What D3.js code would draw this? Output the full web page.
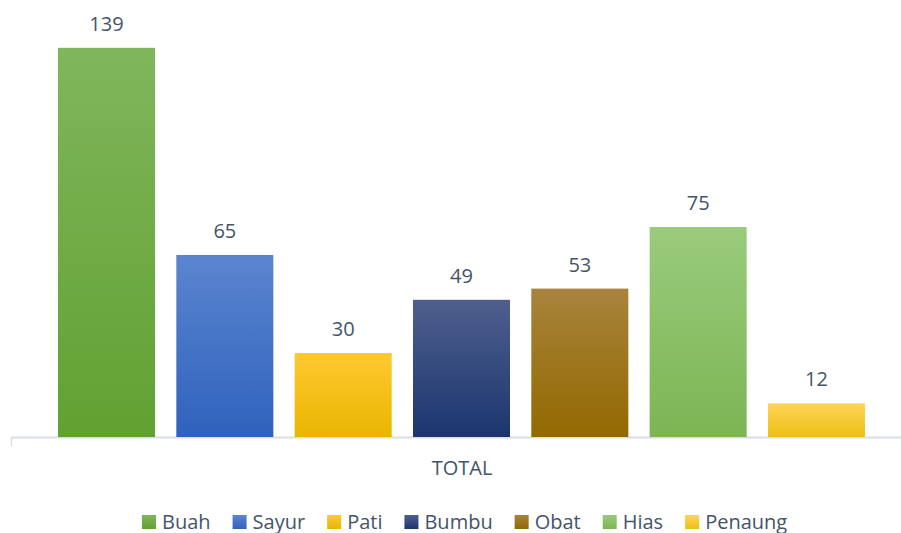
<!DOCTYPE html>
<html>
<head>
<meta charset="utf-8">
<script src="https://cdn.jsdelivr.net/npm/d3@7"></script>
<style>
  body { margin: 0; background: #fff; }
  text { font-family: "Open Sans", sans-serif; fill: #44546a; }
</style>
</head>
<body>
<div id="plot"></div>
<script>
var categories = ["Buah", "Sayur", "Pati", "Bumbu", "Obat", "Hias", "Penaung"];
var values = [139, 65, 30, 49, 53, 75, 12];
var topColors = ["#80b65c", "#5b85cf", "#ffc931", "#4f5f8d", "#a8833c", "#9acb7c", "#ffd457"];
var bottomColors = ["#61a131", "#2f62bd", "#e8b600", "#1b366f", "#936900", "#7db554", "#ecbf14"];
var groupLabel = "TOTAL";

var dataSet = categories.map(function (c, i) {
    return { name: c, value: values[i], top: topColors[i], bottom: bottomColors[i] };
});

plotBarChart(dataSet);

function plotBarChart(dataSet) {
    var width = 901;
    var height = 533;

    var svg = d3.select("#plot").append("svg").attr("width", width).attr("height", height);

    var defs = svg.append("defs");
    dataSet.forEach(function (d, i) {
        var g = defs.append("linearGradient")
            .attr("id", "grad" + i)
            .attr("x1", 0).attr("y1", 0).attr("x2", 0).attr("y2", 1);
        g.append("stop").attr("offset", "0%").attr("stop-color", d.top);
        g.append("stop").attr("offset", "100%").attr("stop-color", d.bottom);
    });

    var xScale = d3.scaleBand()
        .range([58, 865])
        .paddingInner(0.18)
        .paddingOuter(0)
        .domain(dataSet.map(function (d) { return d.name; }));

    var yScale = d3.scaleLinear()
        .domain([0, 140])
        .range([437, 45]);

    // axis line
    svg.append("line")
        .attr("x1", 11).attr("x2", 901)
        .attr("y1", yScale(0) + 0.5).attr("y2", yScale(0) + 0.5)
        .attr("stroke", "#d9dde4").attr("stroke-width", 2);
    svg.append("line")
        .attr("x1", 11.5).attr("x2", 11.5)
        .attr("y1", yScale(0)).attr("y2", yScale(0) + 9)
        .attr("stroke", "#d9dde4").attr("stroke-width", 1.5);

    svg.append("g")
        .selectAll("rect")
        .data(dataSet)
        .enter()
        .append("rect")
        .attr("x", function (d) { return xScale(d.name); })
        .attr("y", function (d) { return yScale(d.value); })
        .attr("width", xScale.bandwidth())
        .attr("height", function (d) { return yScale(0) - yScale(d.value); })
        .attr("fill", function (d, i) { return "url(#grad" + i + ")"; });

    svg.append("g")
        .selectAll("text")
        .data(dataSet)
        .enter()
        .append("text")
        .attr("x", function (d) { return xScale(d.name) + xScale.bandwidth() / 2; })
        .attr("y", function (d) { return yScale(d.value) - 17; })
        .attr("text-anchor", "middle")
        .style("font-size", "20px")
        .text(function (d) { return d.value; });

    svg.append("text")
        .attr("x", 462).attr("y", 475)
        .attr("text-anchor", "middle")
        .style("font-size", "20px")
        .text(groupLabel);

    // legend
    var legend = svg.append("g").attr("transform", "translate(0,522)");
    var x = 142;
    dataSet.forEach(function (d, i) {
        var item = legend.append("g").attr("transform", "translate(" + x + ",0)");
        item.append("rect")
            .attr("x", 0).attr("y", -7).attr("width", 14).attr("height", 14)
            .attr("fill", "url(#grad" + i + ")");
        var t = item.append("text")
            .attr("x", 20).attr("y", 7)
            .style("font-size", "20px")
            .text(d.name);
        x += 20 + t.node().getComputedTextLength() + 22;
    });
}
</script>
</body>
</html>
